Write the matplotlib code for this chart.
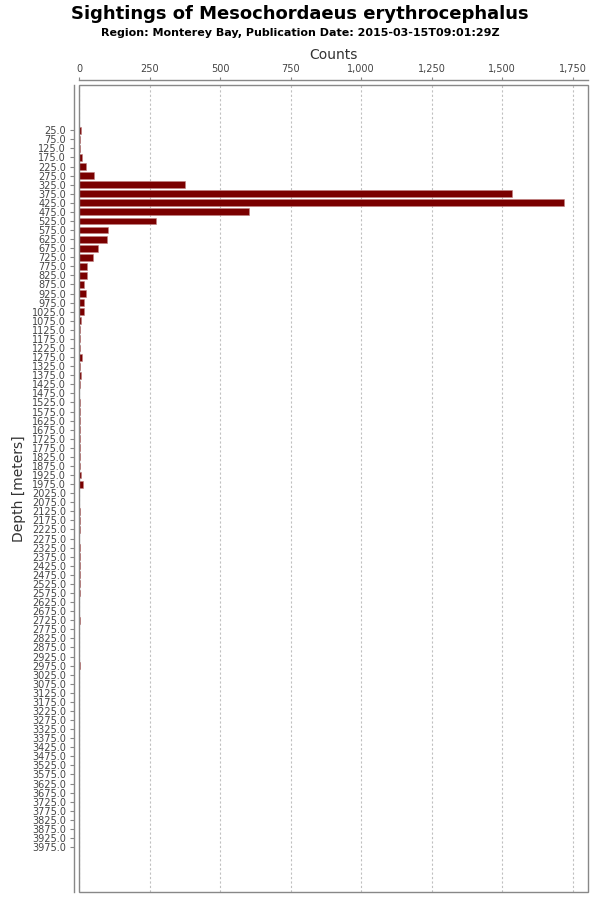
import matplotlib
matplotlib.use("Agg")
import matplotlib.pyplot as plt
from matplotlib.patches import Rectangle
from matplotlib.ticker import FuncFormatter, FixedLocator

# depth bins (meters)
depths = [25.0 + 50.0 * i for i in range(80)]
depth_labels = [f"{d:.1f}" for d in depths]

counts = [
    5, 1, 2, 11, 23, 51, 376, 1537, 1719, 603,      # 25 - 475
    273, 103, 99, 65, 47, 28, 27, 17, 22, 18,       # 525 - 975
    15, 7, 4, 3, 3, 9, 4, 5, 1, 0,                  # 1025 - 1475
    3, 4, 4, 3, 1, 1, 1, 2, 5, 13,                  # 1525 - 1975
    0, 0, 2, 1, 3, 0, 3, 2, 4, 1,                   # 2025 - 2475
    1, 1, 0, 0, 2, 0, 0, 0, 0, 1,                   # 2525 - 2975
    0, 0, 0, 0, 0, 0, 0, 0, 0, 0,                   # 3025 - 3475
    0, 0, 0, 0, 0, 0, 0, 0, 0, 0,                   # 3525 - 3975
]

x_ticks = [0, 250, 500, 750, 1000, 1250, 1500, 1750]

title = "Sightings of Mesochordaeus erythrocephalus"
subtitle = "Region: Monterey Bay, Publication Date: 2015-03-15T09:01:29Z"
x_title = "Counts"
y_title = "Depth [meters]"

fig = plt.figure(figsize=(6, 9), dpi=100)
W, H = 600, 900
left, right, top, bottom = 79.3, 588.3, 85.3, 892.0
ax = fig.add_axes([left / W, (H - bottom) / H, (right - left) / W, (bottom - top) / H])

ypos = list(range(len(depths)))
ax.barh(ypos, counts, height=0.76, color="#7a0000", edgecolor="#c08080",
        linewidth=0.4, zorder=3)

ax.set_xlim(0, 1806)
ax.set_ylim(len(depths) - 1 + 4.95, -4.95)

ax.xaxis.set_major_locator(FixedLocator(x_ticks))
ax.xaxis.set_major_formatter(FuncFormatter(lambda v, p: f"{int(v):,}"))
ax.xaxis.tick_top()
ax.xaxis.set_label_position("top")
ax.set_yticks(ypos)
ax.set_yticklabels(depth_labels)

ax.tick_params(axis="x", which="both", direction="out", length=2, width=0.8,
               color="#888888", labelsize=7, labelcolor="#444444", pad=2)
ax.tick_params(axis="y", which="both", direction="out", length=3, width=0.8,
               color="#888888", labelsize=7, labelcolor="#444444", pad=2.5)

ax.grid(axis="x", color="#c0c0c0", linestyle=(0, (2, 2)), linewidth=0.8, zorder=0)
ax.set_axisbelow(True)

for s in ["right", "bottom"]:
    ax.spines[s].set_visible(False)
for s in ["top", "left"]:
    ax.spines[s].set_position(("outward", 4))
    ax.spines[s].set_color("#888888")
    ax.spines[s].set_linewidth(1.0)

frame = Rectangle((0, 0), 1, 1, transform=ax.transAxes, fill=False,
                  edgecolor="#888888", linewidth=1.0, zorder=5, clip_on=False)
ax.add_patch(frame)

ax.set_xlabel(x_title, fontsize=10, color="#333333", labelpad=4)
ax.set_ylabel(y_title, fontsize=10, color="#333333", labelpad=4)

fig.text(0.5, 1 - 14 / H, title, ha="center", va="center", fontsize=13,
         fontweight="bold", color="black")
fig.text(0.5, 1 - 33 / H, subtitle, ha="center", va="center", fontsize=8,
         fontweight="bold", color="black")

fig.savefig("out.png", dpi=100)
